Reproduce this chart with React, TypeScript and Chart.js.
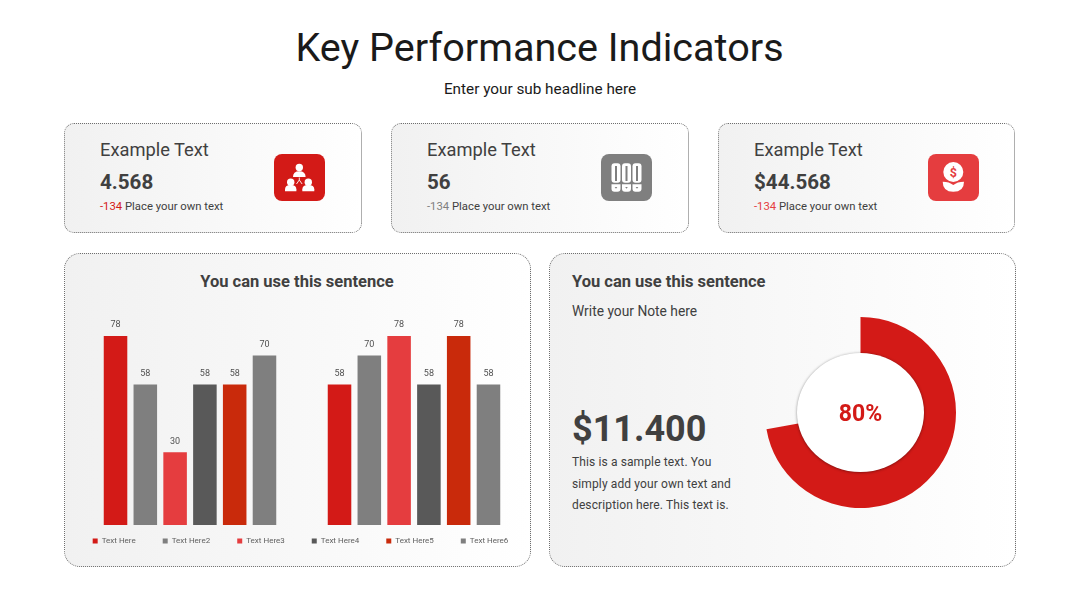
import React, { useEffect, useRef } from "react";
import { Chart, registerables } from "chart.js";

Chart.register(...registerables);

const groups = ["Group A", "Group B"];
const seriesNames = ["Text Here", "Text Here2", "Text Here3", "Text Here4", "Text Here5", "Text Here6"];
const seriesColors = ["#D31A17", "#7F7F7F", "#E53D3F", "#595959", "#C92A0B", "#7F7F7F"];
const series1 = [78, 58];
const series2 = [58, 70];
const series3 = [30, 78];
const series4 = [58, 58];
const series5 = [58, 78];
const series6 = [70, 58];
const allSeries = [series1, series2, series3, series4, series5, series6];

const ringLabels = ["Shown", "Rest"];
const ringValues = [72.2, 27.8];
const ringText = "80%";

const cardValues = ["4.568", "56", "$44.568"];
const cardDeltaColors = ["#D31A17", "#7F7F7F", "#E53D3F"];
const cardLefts = [65, 392, 719];
const noteLines = ["This is a sample text. You", "simply add your own text and", "description here. This text is."];

const DARK = "#404040";
const FONT = "Roboto, sans-serif";

const valueLabels = {
  id: "valueLabels",
  afterDatasetsDraw(chart: any) {
    const { ctx } = chart;
    ctx.save();
    ctx.font = `9px ${FONT}`;
    ctx.fillStyle = "#505050";
    ctx.textAlign = "center";
    ctx.textBaseline = "middle";
    chart.data.datasets.forEach((ds: any, i: number) => {
      chart.getDatasetMeta(i).data.forEach((bar: any, j: number) => {
        ctx.fillText(String(ds.data[j]), bar.x, bar.y - 11);
      });
    });
    ctx.restore();
  },
};

// The legend's padding sets both the gap between items and its height, so it is lifted nearer the bars.
const legendShift = {
  id: "legendShift",
  afterLayout(chart: any) {
    const l = chart.legend;
    l.top -= 15;
    l.bottom -= 15;
    l.left += 2;
    l.right += 2;
  },
};

const ringCentre = {
  id: "ringCentre",
  afterDatasetsDraw(chart: any) {
    const { ctx } = chart;
    const arc = chart.getDatasetMeta(0).data[0];
    ctx.save();
    ctx.shadowColor = "rgba(0,0,0,0.45)";
    ctx.shadowBlur = 3;
    ctx.shadowOffsetY = 0.5;
    ctx.fillStyle = "#FFFFFF";
    ctx.beginPath();
    ctx.ellipse(arc.x, arc.y, 63.5, 59.5, 0, 0, Math.PI * 2);
    ctx.fill();
    ctx.restore();
    ctx.save();
    ctx.font = `700 23px ${FONT}`;
    ctx.fillStyle = "#D31A17";
    ctx.textAlign = "center";
    ctx.textBaseline = "middle";
    ctx.fillText(ringText, arc.x, arc.y + 3);
    ctx.restore();
  },
};

function Icon({ kind }: { kind: number }) {
  const w = "#FFFFFF";
  if (kind === 0) {
    return (
      <svg width="51" height="47" viewBox="0 0 51 47" style={{ display: "block" }}>
        <circle cx="25.3" cy="13.5" r="3.7" fill={w} />
        <path d="M19 23 q0 -5.8 6.3 -5.8 q6.3 0 6.3 5.8 Z" fill={w} />
        <circle cx="16.7" cy="28.3" r="3.7" fill={w} />
        <path d="M11 37.3 v-2 q0 -4.3 5.7 -4.3 q5.7 0 5.7 4.3 v2 Z" fill={w} />
        <circle cx="34.3" cy="28.3" r="3.7" fill={w} />
        <path d="M28.3 37.3 v-2 q0 -4.3 6 -4.3 q6 0 6 4.3 v2 Z" fill={w} />
        <path d="M22.5 30 L25.3 26 L28.1 30 M25.3 26 V23.5" stroke={w} strokeWidth="0.9" fill="none" />
      </svg>
    );
  }
  if (kind === 1) {
    const xs = [10.5, 21, 31.5];
    return (
      <svg width="51" height="47" viewBox="0 0 51 47" style={{ display: "block" }}>
        {xs.map((x) => (
          <g key={x}>
            <rect x={x} y="9.3" width="9" height="19.5" rx="3" fill={w} />
            <rect x={x + 3.5} y="12" width="2" height="15" fill="#7F7F7F" />
            <path d={`M${x} 30.2 h9 v4.5 a3 3 0 0 1 -3 3 h-3 a3 3 0 0 1 -3 -3 Z`} fill={w} />
            <path d={`M${x + 3.2} 33 h2.6 l-1.3 1.8 Z`} fill="#7F7F7F" />
          </g>
        ))}
      </svg>
    );
  }
  return (
    <svg width="51" height="47" viewBox="0 0 51 47" style={{ display: "block" }}>
      <circle cx="25.3" cy="18" r="10" fill={w} />
      <text x="25.3" y="22.5" textAnchor="middle" fontFamily={FONT} fontWeight="700" fontSize="12.5" fill="#E53D3F">$</text>
      <path d="M14.7 27.7 q6.6 0 10.6 3.4 q4 -3.4 10.7 -3.4 q0 10 -10.7 10 q-10.6 0 -10.6 -10 Z" fill={w} />
    </svg>
  );
}

function T({ x, y, size, weight = 400, color = DARK, children, center, w, spacing }: any) {
  return (
    <div
      style={{
        position: "absolute",
        left: center ? x - 300 : x,
        width: center ? 600 : w,
        top: y - 20,
        height: 40,
        lineHeight: "40px",
        textAlign: center ? "center" : "left",
        fontSize: size,
        fontWeight: weight,
        color,
        whiteSpace: "nowrap",
        letterSpacing: spacing,
      }}
    >
      {children}
    </div>
  );
}

const panel = (left: number, top: number, width: number, height: number, radius: number): React.CSSProperties => ({
  position: "absolute",
  left,
  top,
  width,
  height,
  boxSizing: "border-box",
  borderRadius: radius,
  border: "1px dotted #6E6E6E",
  background: "linear-gradient(90deg, #F1F1F1 0%, #FFFFFF 100%)",
});

const spacer = (width: number) => ({
  display: true,
  ticks: { display: false },
  grid: { display: false },
  border: { display: false },
  afterFit: (scale: any) => {
    scale.width = width;
  },
});

export default function App() {
  const barRef = useRef<HTMLCanvasElement>(null);
  const ringRef = useRef<HTMLCanvasElement>(null);

  useEffect(() => {
    document.body.style.margin = "0";
    const bar = new Chart(barRef.current!, {
      type: "bar",
      data: {
        labels: groups,
        datasets: allSeries.map((data, i) => ({
          label: seriesNames[i],
          data,
          backgroundColor: seriesColors[i],
          categoryPercentage: 0.798,
          barPercentage: 0.79,
        })),
      },
      options: {
        responsive: false,
        animation: false,
        layout: { padding: 0 },
        scales: {
          x: { display: false },
          y: { ...spacer(30), position: "left", min: 0, max: 90 },
          y2: { ...spacer(23), position: "right", min: 0, max: 90 },
        },
        plugins: {
          tooltip: { enabled: false },
          legend: {
            position: "bottom",
            labels: {
              boxWidth: 5,
              boxHeight: 5,
              padding: 27,
              color: "#606060",
              font: { family: FONT, size: 8 },
            },
          },
        },
      },
      plugins: [valueLabels, legendShift],
    } as any);
    const ring = new Chart(ringRef.current!, {
      type: "doughnut",
      data: {
        labels: ringLabels,
        datasets: [
          {
            data: ringValues,
            backgroundColor: ["#D31A17", "rgba(0,0,0,0)"],
            borderWidth: 0,
          },
        ],
      },
      options: {
        responsive: false,
        animation: false,
        cutout: "50%",
        layout: { padding: 0 },
        plugins: { legend: { display: false }, tooltip: { enabled: false } },
      },
      plugins: [ringCentre],
    } as any);
    return () => {
      bar.destroy();
      ring.destroy();
    };
  }, []);

  return (
    <div style={{ position: "relative", width: 1080, height: 608, overflow: "hidden", background: "#FFFFFF", fontFamily: FONT }}>
      <T x={539.5} y={48} size={39.6} color="#1A1A1A" center>Key Performance Indicators</T>
      <T x={540} y={89} size={15.3} color="#1A1A1A" center>Enter your sub headline here</T>

      {cardLefts.map((left, i) => (
        <React.Fragment key={left}>
          <div style={panel(left - 1, 123, i === 2 ? 297 : 298, 110, 10)} />
          <T x={left + 35} y={150} size={18.3}>Example Text</T>
          <T x={left + 35} y={182} size={20.6} weight={700}>{cardValues[i]}</T>
          <div style={{ position: "absolute", left: left + 35, top: 197, height: 20, lineHeight: "20px", fontSize: 11.3, whiteSpace: "nowrap", color: DARK }}>
            <span style={{ color: cardDeltaColors[i] }}>-134</span> Place your own text
          </div>
          <div style={{ position: "absolute", left: left + 209, top: 154, width: 51, height: 47, borderRadius: 8, background: cardDeltaColors[i] }}>
            <Icon kind={i} />
          </div>
        </React.Fragment>
      ))}

      <div style={panel(64, 253, 467, 314, 16)} />
      <div style={panel(549, 253, 467, 314, 16)} />

      <T x={297} y={281.5} size={16.5} weight={700} center>You can use this sentence</T>
      <canvas ref={barRef} width={501} height={263} style={{ position: "absolute", left: 48, top: 307, width: 501, height: 263 }} />

      <T x={572} y={281.5} size={16.5} weight={700}>You can use this sentence</T>
      <T x={572} y={311} size={13.8}>Write your Note here</T>
      <T x={572} y={429} size={36} weight={700}>$11.400</T>
      {noteLines.map((line, i) => (
        <T key={line} x={572} y={462 + i * 21.5} size={12} spacing={0.12}>{line}</T>
      ))}
      <canvas ref={ringRef} width={191} height={191} style={{ position: "absolute", left: 765, top: 317, width: 191, height: 191 }} />
    </div>
  );
}
